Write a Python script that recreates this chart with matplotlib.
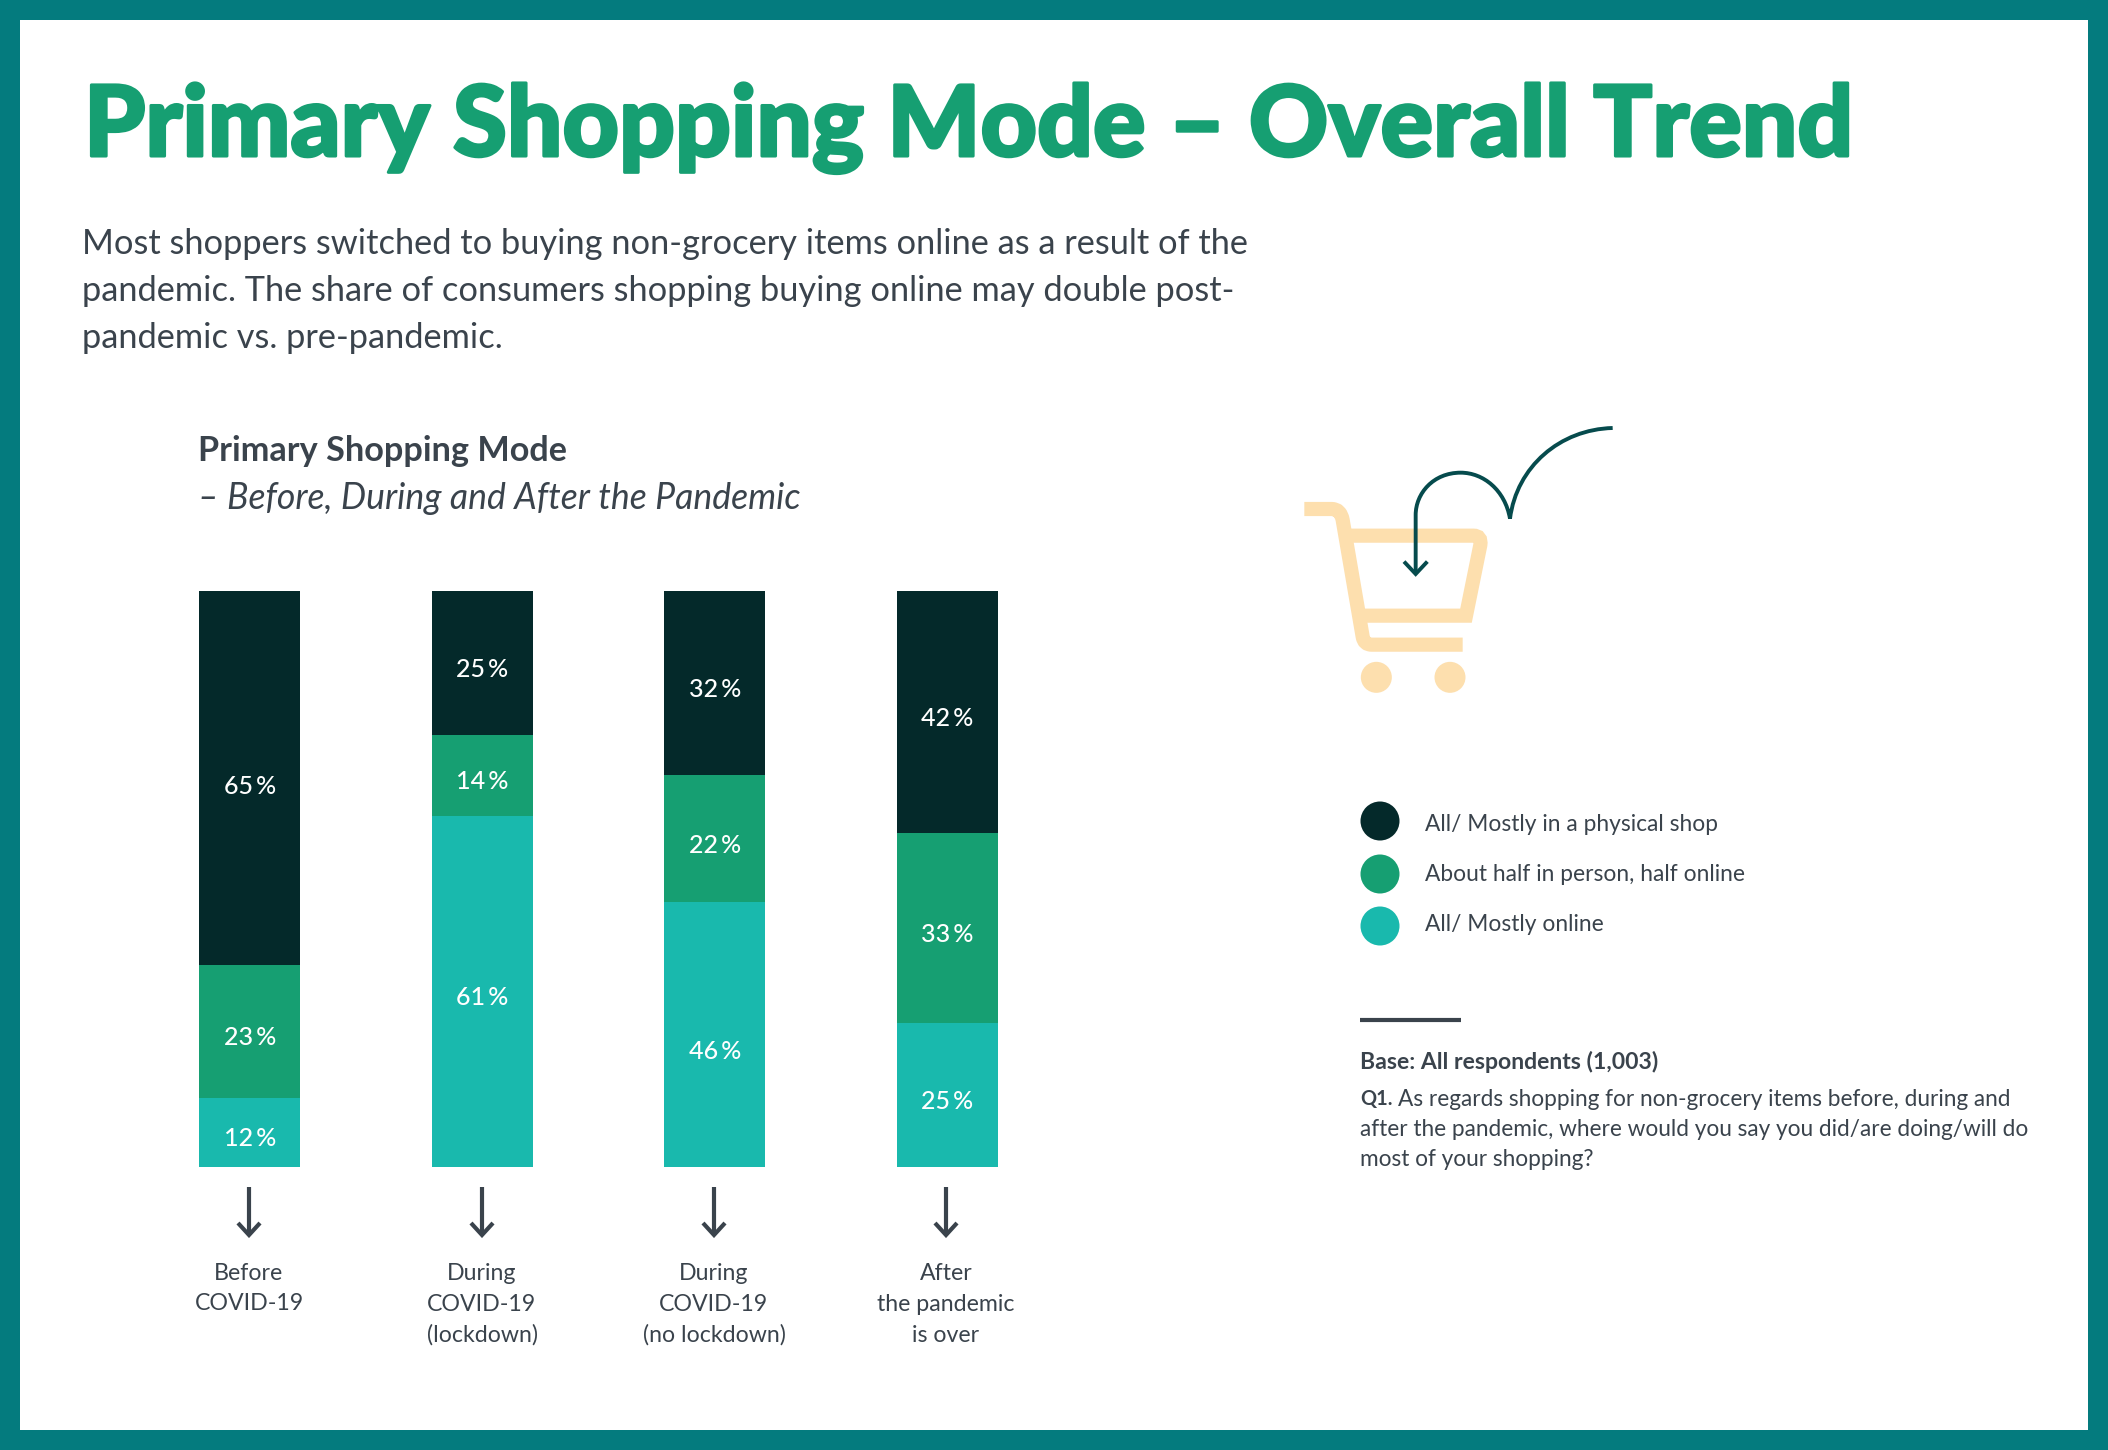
import matplotlib
matplotlib.use("Agg")
import matplotlib.pyplot as plt
import matplotlib.patheffects as pe
from matplotlib.patches import Rectangle, Circle, PathPatch
from matplotlib.path import Path

W, H = 2108, 1450
categories = ["Before\nCOVID-19", "During\nCOVID-19\n(lockdown)", "During\nCOVID-19\n(no lockdown)", "After\nthe pandemic\nis over"]
online = [12, 61, 46, 25]
half = [23, 14, 22, 33]
physical = [65, 25, 32, 42]
series_names = ["All/ Mostly in a physical shop", "About half in person, half online", "All/ Mostly online"]
series_colors = ["#04292A", "#169F72", "#19B9AD"]
title = "Primary Shopping Mode – Overall Trend"
intro = ["Most shoppers switched to buying non-grocery items online as a result of the",
         "pandemic. The share of consumers shopping buying online may double post-",
         "pandemic vs. pre-pandemic."]
INK = "#3A434C"
FONT = "Lato"

fig = plt.figure(figsize=(W/100, H/100), dpi=100, facecolor="white")
bg = fig.add_axes([0, 0, 1, 1])
bg.set_xlim(0, W); bg.set_ylim(H, 0); bg.axis("off")
B = 20
for r in [(0, 0, W, B), (0, H-B, W, B), (0, 0, B, H), (W-B, 0, B, H)]:
    bg.add_patch(Rectangle((r[0], r[1]), r[2], r[3], fc="#047B7E", ec="none"))

renderer = fig.canvas.get_renderer()

def T(x, y, s, px, **k):
    k.setdefault("color", INK); k.setdefault("family", FONT); k.setdefault("va", "center")
    return bg.text(x, y, s, fontsize=px*0.72, **k)

def fit_px(s, width, **k):
    """Font size in px that makes string s exactly `width` pixels wide."""
    t = T(0, 0, s, 30, **k)
    w = t.get_window_extent(renderer).width
    t.remove()
    return 30*width/w

tt = T(84, 128, title, fit_px(title, 1772, weight="black"), color="#169F72", weight="black")
tt.set_path_effects([pe.withStroke(linewidth=2.2, foreground="#169F72")])
px_intro = fit_px(intro[0], 1166)
for y, s in zip([244, 291, 338], intro):
    T(82, y, s, px_intro)
s1 = "Primary Shopping Mode"
T(198, 451, s1, fit_px(s1, 370, weight="bold"), weight="bold")
s2 = "– Before, During and After the Pandemic"
T(198, 498, s2, fit_px(s2, 603, style="italic"), style="italic")

# bars
ax = fig.add_axes([199.3/W, 1-1167/H, (997.8-199.3)/W, (1167-591)/H])
wd = 101/232.5
ax.set_xlim(-0.5*wd, 3+0.5*wd); ax.set_ylim(0, 100); ax.axis("off")
xs = list(range(4))
label_nudge = {46: -1.9, 65: -0.3}   # these labels sit lower than their segment's centre
bottom = [0]*4
for vals, c in zip([online, half, physical], series_colors[::-1]):
    ax.bar(xs, vals, bottom=bottom, width=wd, color=c)
    for x, v, b in zip(xs, vals, bottom):
        ax.text(x, b+v/2-1.1+label_nudge.get(v, 0), f"{v}\u2009%", color="white", ha="center", va="center",
                fontsize=25*0.72, family=FONT, weight="medium")
    bottom = [b+v for b, v in zip(bottom, vals)]

# arrows and labels
cx = [249, 482, 714, 946]
px_cat = fit_px("(no lockdown)", 143)
for x, lab, y0 in zip(cx, categories, [1273, 1274, 1274, 1274]):
    bg.plot([x, x], [1187, 1235], color=INK, lw=3.0, solid_capstyle="butt")
    bg.plot([x-11, x, x+11], [1223, 1235, 1223], color=INK, lw=3.0, solid_joinstyle="miter", solid_capstyle="butt")
    for i, line in enumerate(lab.split("\n")):
        T(x, y0+i*30.5, line, px_cat, ha="center")

# legend
px_leg = fit_px(series_names[1], 319)
for y, ty, n, c in zip([821, 874, 926], [824, 874, 924], series_names, series_colors):
    bg.add_patch(Circle((1380, y), 19.5, fc=c, ec="none"))
    T(1425, ty, n, px_leg)
bg.plot([1360, 1461], [1020, 1020], color=INK, lw=3, solid_capstyle="butt")
s3 = "Base: All respondents (1,003)"
T(1360, 1062, s3, fit_px(s3, 298, weight="bold"), weight="bold")
q2 = "after the pandemic, where would you say you did/are doing/will do"
px_q = fit_px(q2, 669)
T(1360, 1099, "Q1.", px_q*0.88, weight="bold")
T(1398, 1099, "As regards shopping for non-grocery items before, during and", px_q)
T(1360, 1129, q2, px_q)
T(1360, 1159, "most of your shopping?", px_q)

# cart icon
cart = "#FDDFAE"
def zx(v): return 1250+v/3
def zy(v): return 400+v/3
bg.add_patch(PathPatch(Path([(zx(163),zy(327)),(zx(245),zy(327)),(zx(272),zy(327)),(zx(278),zy(360)),
                             (zx(338),zy(710)),(zx(342),zy(734)),(zx(365),zy(734)),(zx(638),zy(734))],
                            [1,2,3,3,2,3,3,2]), fc="none", ec=cart, lw=10.2, capstyle="butt", joinstyle="round"))
bg.add_patch(PathPatch(Path([(zx(295),zy(407)),(zx(670),zy(407)),(zx(695),zy(407)),(zx(691),zy(435)),
                             (zx(648),zy(647)),(zx(340),zy(647))],
                            [1,2,3,3,2,2]), fc="none", ec=cart, lw=10.2, capstyle="butt", joinstyle="miter"))
for v in [379, 600]:
    bg.add_patch(Circle((zx(v), zy(832)), 15.5, fc=cart, ec="none"))
ARC = "#064B4D"
bg.add_patch(PathPatch(Path([(zx(1088),zy(84)),(zx(930),zy(88)),(zx(800),zy(200)),(zx(780),zy(356)),
                             (zx(765),zy(270)),(zx(700),zy(218)),(zx(632),zy(218)),
                             (zx(550),zy(218)),(zx(497),zy(280)),(zx(497),zy(345)),(zx(497),zy(522))],
                            [1,4,4,4,4,4,4,4,4,4,2]), fc="none", ec=ARC, lw=2.8))
bg.plot([zx(466), zx(497), zx(528)], [zy(489), zy(522), zy(489)], color=ARC, lw=2.8, solid_joinstyle="miter")

fig.savefig("out.png", dpi=100, facecolor="white")
